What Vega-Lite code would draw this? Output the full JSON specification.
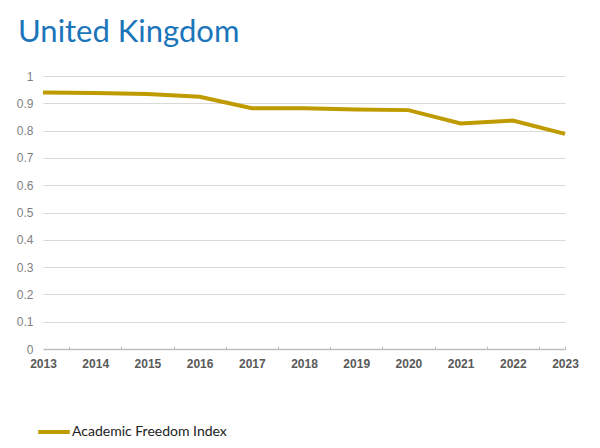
{
  "$schema": "https://vega.github.io/schema/vega-lite/v6.json",
  "width": 522,
  "height": 273,
  "autosize": {"type": "none"},
  "padding": {"left": 43, "top": 76, "right": 35, "bottom": 99},
  "background": "white",
  "title": {
    "text": "United Kingdom",
    "anchor": "start",
    "frame": "group",
    "font": "Lato",
    "fontSize": 31,
    "fontWeight": "normal",
    "color": "#1a75bb",
    "dx": -25,
    "offset": 21
  },
  "data": {
    "values": [
      {"year": 2013, "value": 0.940, "series": "Academic Freedom Index"},
      {"year": 2014, "value": 0.938, "series": "Academic Freedom Index"},
      {"year": 2015, "value": 0.934, "series": "Academic Freedom Index"},
      {"year": 2016, "value": 0.924, "series": "Academic Freedom Index"},
      {"year": 2017, "value": 0.882, "series": "Academic Freedom Index"},
      {"year": 2018, "value": 0.882, "series": "Academic Freedom Index"},
      {"year": 2019, "value": 0.877, "series": "Academic Freedom Index"},
      {"year": 2020, "value": 0.875, "series": "Academic Freedom Index"},
      {"year": 2021, "value": 0.826, "series": "Academic Freedom Index"},
      {"year": 2022, "value": 0.837, "series": "Academic Freedom Index"},
      {"year": 2023, "value": 0.788, "series": "Academic Freedom Index"}
    ]
  },
  "mark": {"type": "line", "strokeWidth": 4, "clip": false},
  "encoding": {
    "x": {
      "field": "year",
      "type": "quantitative",
      "scale": {"domain": [2013, 2023], "nice": false, "zero": false},
      "axis": {
        "title": null,
        "values": [2013, 2013.5, 2014, 2014.5, 2015, 2015.5, 2016, 2016.5, 2017, 2017.5, 2018, 2018.5, 2019, 2019.5, 2020, 2020.5, 2021, 2021.5, 2022, 2022.5, 2023],
        "labelExpr": "datum.value % 1 == 0 ? format(datum.value, 'd') : ''",
        "grid": false,
        "domainColor": "#bfbfbf",
        "domainWidth": 1.5,
        "tickColor": "#bfbfbf",
        "tickSize": -3,
        "tickOpacity": {"condition": {"test": "datum.value % 1 == 0 && datum.value != 2023", "value": 0}, "value": 1},
        "labelFont": "Liberation Sans",
        "labelFontWeight": "bold",
        "labelFontSize": 12,
        "labelColor": "#595959",
        "labelPadding": 12,
        "labelFlush": false,
        "labelOverlap": false
      }
    },
    "y": {
      "field": "value",
      "type": "quantitative",
      "scale": {"domain": [0, 1], "nice": false},
      "axis": {
        "title": null,
        "values": [0, 0.1, 0.2, 0.3, 0.4, 0.5, 0.6, 0.7, 0.8, 0.9, 1],
        "format": "~g",
        "domain": false,
        "ticks": false,
        "gridColor": "#d9d9d9",
        "gridWidth": 1,
        "labelFont": "Liberation Sans",
        "labelFontSize": 12,
        "labelColor": "#7f7f7f",
        "labelPadding": 10
      }
    },
    "color": {
      "field": "series",
      "type": "nominal",
      "scale": {"range": ["#c09b00"]},
      "legend": {
        "title": null,
        "orient": "none",
        "legendX": -7,
        "legendY": 338,
        "symbolType": "stroke",
        "symbolStrokeWidth": 4,
        "symbolSize": 1000,
        "labelFont": "Lato",
        "labelFontSize": 14,
        "labelColor": "#222222",
        "labelOffset": 0
      }
    }
  },
  "config": {"view": {"stroke": null}}
}
